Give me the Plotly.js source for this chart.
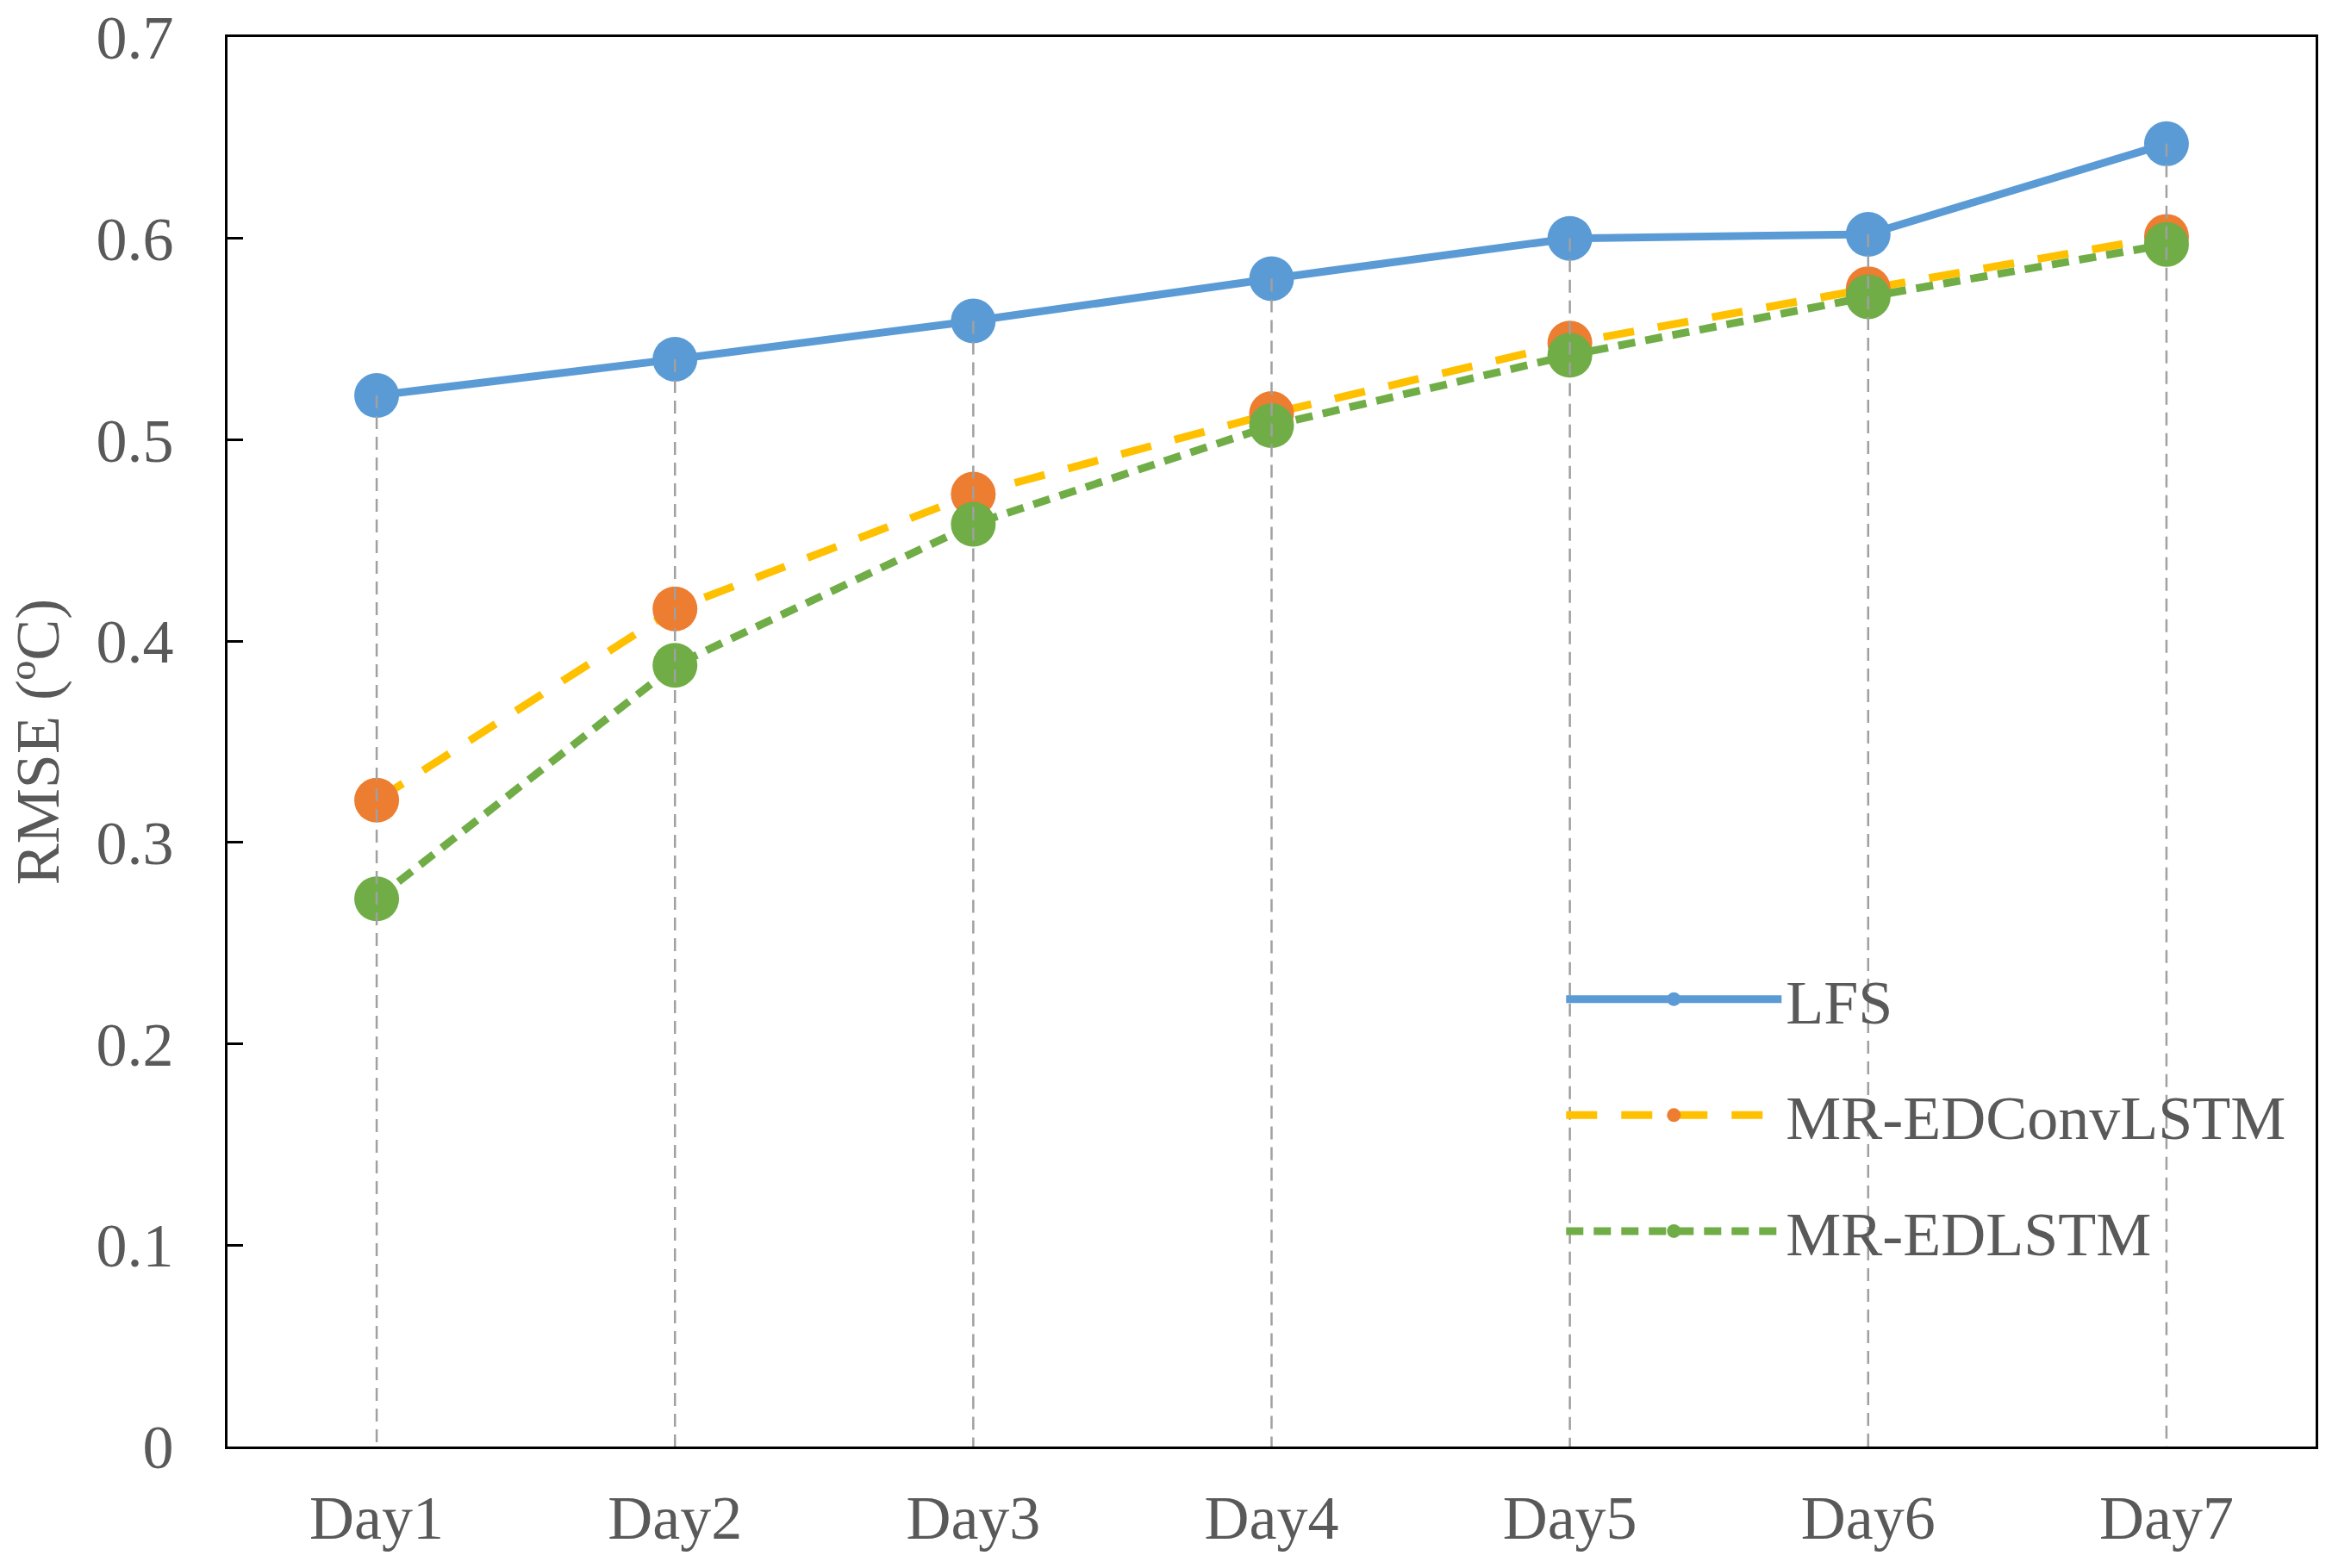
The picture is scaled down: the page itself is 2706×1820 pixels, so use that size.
<!DOCTYPE html>
<html>
<head>
<meta charset="utf-8">
<script src="https://cdn.plot.ly/plotly-3.0.1.min.js"></script>
<style>html,body{margin:0;padding:0;background:#fff;}#chart{width:2706px;height:1820px;}</style>
</head>
<body>
<div id="chart"></div>
<script>
var categories = ["Day1", "Day2", "Day3", "Day4", "Day5", "Day6", "Day7"];
var lfs = [0.522, 0.540, 0.559, 0.580, 0.600, 0.602, 0.647];
var mrEDConvLSTM = [0.321, 0.416, 0.473, 0.513, 0.548, 0.575, 0.601];
var mrEDLSTM = [0.272, 0.388, 0.458, 0.507, 0.542, 0.571, 0.597];
var seriesNames = ["LFS", "MR-EDConvLSTM", "MR-EDLSTM"];
var yTicks = [0, 0.1, 0.2, 0.3, 0.4, 0.5, 0.6, 0.7];
var yTickText = ["0", "0.1", "0.2", "0.3", "0.4", "0.5", "0.6", "0.7"];

var FONT = "Liberation Serif, Times New Roman, serif";
var GRAY = "#595959";

// drop lines from the highest point of each category down to zero
var dropX = [], dropY = [];
categories.forEach(function (c, i) {
  var top = Math.max(lfs[i], mrEDConvLSTM[i], mrEDLSTM[i]);
  dropX.push(c, c, null);
  dropY.push(top, 0, null);
});

var traces = [
  {
    x: categories, y: lfs, name: seriesNames[0], type: "scatter", mode: "lines+markers",
    legendgroup: "a",
    line: { color: "#5B9BD5", width: 9 },
    marker: { color: "#5B9BD5", size: 52 }
  },
  {
    x: categories, y: mrEDConvLSTM, name: seriesNames[1], type: "scatter", mode: "lines+markers",
    legendgroup: "b",
    line: { color: "#FFC000", width: 9, dash: "36px,28px" },
    marker: { color: "#ED7D31", size: 52 }
  },
  {
    x: categories, y: mrEDLSTM, name: seriesNames[2], type: "scatter", mode: "lines+markers",
    legendgroup: "c",
    line: { color: "#70AD47", width: 9, dash: "20px,12px" },
    marker: { color: "#70AD47", size: 52 }
  },
  {
    x: dropX, y: dropY, type: "scatter", mode: "lines", showlegend: false, hoverinfo: "skip",
    connectgaps: false, legendgroup: "d",
    line: { color: "#A0A0A0", width: 2.5, dash: "15px,9px" }
  }
];

var layout = {
  width: 2706, height: 1820,
  margin: { l: 264, r: 19, t: 43, b: 141 },
  paper_bgcolor: "#fff", plot_bgcolor: "#fff",
  font: { family: FONT, size: 72, color: GRAY },
  showlegend: true,
  legend: {
    x: 0.639, xanchor: "left", y: 0.35, yanchor: "top",
    bgcolor: "rgba(0,0,0,0)", borderwidth: 0,
    font: { family: FONT, size: 72, color: GRAY },
    itemwidth: 250, tracegroupgap: 38, traceorder: "grouped", itemsizing: "trace"
  },
  xaxis: {
    type: "category", categoryorder: "array", categoryarray: categories,
    range: [-0.5, 6.5],
    showgrid: false, zeroline: false,
    showline: true, linecolor: "#000", linewidth: 3, mirror: true,
    ticks: "", ticklabelstandoff: 18,
    tickfont: { family: FONT, size: 72, color: GRAY }
  },
  yaxis: {
    range: [0, 0.7], tickvals: yTicks, ticktext: yTickText,
    showgrid: false, zeroline: false,
    showline: true, linecolor: "#000", linewidth: 3, mirror: true,
    ticks: "inside", ticklen: 18, tickwidth: 3, tickcolor: "#000",
    ticklabelstandoff: 45,
    tickfont: { family: FONT, size: 72, color: GRAY },
    title: { text: "RMSE (ºC)", font: { family: FONT, size: 72, color: GRAY }, standoff: 20 }
  }
};

Plotly.newPlot("chart", traces, layout, { staticPlot: true, displayModeBar: false });
</script>
</body>
</html>
